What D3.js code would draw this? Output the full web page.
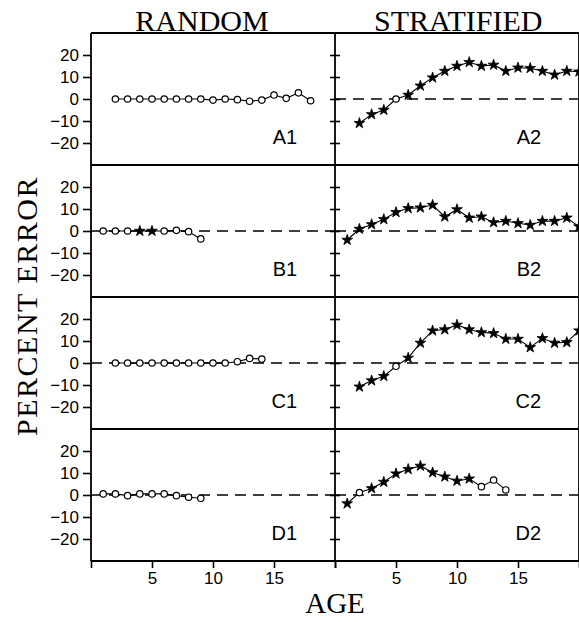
<!DOCTYPE html>
<html>
<head>
<meta charset="utf-8">
<script src="https://cdn.jsdelivr.net/npm/d3@7"></script>
<style>
  body { margin: 0; background: #fff; }
  svg { display: block; }
</style>
</head>
<body>
<div id="chart"></div>
<script>
// percent error by age, 'o' = open circle, '*' = star
const a1Age = [2, 3, 4, 5, 6, 7, 8, 9, 10, 11, 12, 13, 14, 15, 16, 17, 18]
const a1Err = [0, 0, 0, 0, 0, 0, 0, 0, -0.5, 0, -0.3, -1, -0.5, 1.8, 0.3, 2.8, -0.8]
const a1Mark = 'ooooooooooooooooo'

const a2Age = [2, 3, 4, 5, 6, 7, 8, 9, 10, 11, 12, 13, 14, 15, 16, 17, 18, 19, 20]
const a2Err = [-11, -7, -5, 0, 1.8, 6, 9.7, 12.7, 15, 16.7, 15, 15.5, 12.7, 14.2, 14, 12.7, 11, 12.7, 12.4]
const a2Mark = '***o***************'

const b1Age = [1, 2, 3, 4, 5, 6, 7, 8, 9]
const b1Err = [0, 0, 0, 0, 0, 0, 0.3, -0.3, -3.6]
const b1Mark = 'ooo**oooo'

const b2Age = [1, 2, 3, 4, 5, 6, 7, 8, 9, 10, 11, 12, 13, 14, 15, 16, 17, 18, 19, 20]
const b2Err = [-4.1, 0.9, 3, 5.3, 8.5, 10.3, 10.6, 11.8, 6.5, 9.8, 6, 6.5, 3.9, 4.5, 3.5, 2.7, 4.5, 4.5, 6, 2]
const b2Mark = '********************'

const c1Age = [2, 3, 4, 5, 6, 7, 8, 9, 10, 11, 12, 13, 14]
const c1Err = [0, 0, 0, 0, 0, 0, 0, 0, 0, 0, 0.6, 2.1, 1.8]
const c1Mark = 'ooooooooooooo'

const c2Age = [2, 3, 4, 5, 6, 7, 8, 9, 10, 11, 12, 13, 14, 15, 16, 17, 18, 19, 20]
const c2Err = [-10.8, -8, -6, -1.5, 2.3, 9.1, 14.7, 15.2, 17.3, 15.2, 13.9, 13.5, 10.9, 10.9, 7.1, 11.2, 9.1, 9.4, 14.7]
const c2Mark = '***o***************'

const d1Age = [1, 2, 3, 4, 5, 6, 7, 8, 9]
const d1Err = [0.5, 0.5, -0.3, 0.5, 0.5, 0.5, -0.3, -1, -1.5]
const d1Mark = 'ooooooooo'

const d2Age = [1, 2, 3, 4, 5, 6, 7, 8, 9, 10, 11, 12, 13, 14]
const d2Err = [-3.9, 1.1, 3, 5.9, 9.7, 11.7, 13.2, 10.2, 8.3, 6.4, 7.4, 3.8, 6.8, 2.3]
const d2Mark = '*o*********ooo'

const columnTitles = ['RANDOM', 'STRATIFIED']
const yTicks = [-20, -10, 0, 10, 20]
const xTicks = [0, 5, 10, 15, 20]

const panels = [
  { id: 'A1', row: 0, col: 0, age: a1Age, err: a1Err, mark: a1Mark, zero: false },
  { id: 'A2', row: 0, col: 1, age: a2Age, err: a2Err, mark: a2Mark, zero: true },
  { id: 'B1', row: 1, col: 0, age: b1Age, err: b1Err, mark: b1Mark, zero: true },
  { id: 'B2', row: 1, col: 1, age: b2Age, err: b2Err, mark: b2Mark, zero: true },
  { id: 'C1', row: 2, col: 0, age: c1Age, err: c1Err, mark: c1Mark, zero: true },
  { id: 'C2', row: 2, col: 1, age: c2Age, err: c2Err, mark: c2Mark, zero: true },
  { id: 'D1', row: 3, col: 0, age: d1Age, err: d1Err, mark: d1Mark, zero: true },
  { id: 'D2', row: 3, col: 1, age: d2Age, err: d2Err, mark: d2Mark, zero: true }
]

const w = 579
const h = 622
const padL = 91
const padT = 33
const colW = 244
const rowH = 132
const sans = '"Liberation Sans", Arial, sans-serif'
const serif = '"Liberation Serif", "Times New Roman", serif'

const svg = d3.select('#chart')
              .append('svg')
              .attr('width', w)
              .attr('height', h)

svg.append('rect').attr('width', w).attr('height', h).attr('fill', '#fff')

const xScales = [0, 1].map(c => d3.scaleLinear()
                                  .domain([0, 20])
                                  .range([padL + c * colW, padL + (c + 1) * colW]))
const yScales = [0, 1, 2, 3].map(r => d3.scaleLinear()
                                       .domain([-30, 30])
                                       .range([padT + (r + 1) * rowH, padT + r * rowH]))

const star = d3.symbol().type(d3.symbolStar).size(36)

panels.forEach(p => {
  const x = xScales[p.col]
  const y = yScales[p.row]
  const g = svg.append('g')
  const pts = p.age.map((a, i) => ({ age: a, err: p.err[i], mark: p.mark[i] }))

  if (p.zero) {
    g.append('line')
     .attr('x1', x.range()[0]).attr('x2', x.range()[1])
     .attr('y1', y(0)).attr('y2', y(0))
     .attr('stroke', '#000')
     .attr('stroke-width', 1.4)
     .attr('stroke-dasharray', '11,7')
  }

  g.append('path')
   .datum(pts)
   .attr('fill', 'none')
   .attr('stroke', '#000')
   .attr('stroke-width', 1.1)
   .attr('d', d3.line().x(d => x(d.age)).y(d => y(d.err)))

  g.selectAll('circle')
   .data(pts.filter(d => d.mark === 'o'))
   .enter()
   .append('circle')
   .attr('cx', d => x(d.age))
   .attr('cy', d => y(d.err))
   .attr('r', 3.2)
   .attr('fill', '#fff')
   .attr('stroke', '#000')
   .attr('stroke-width', 1.2)

  g.selectAll('path.star')
   .data(pts.filter(d => d.mark === '*'))
   .enter()
   .append('path')
   .attr('class', 'star')
   .attr('transform', d => 'translate(' + x(d.age) + ',' + y(d.err) + ')')
   .attr('d', star)
   .attr('fill', '#000')
   .attr('stroke', '#000')
   .attr('stroke-width', 0.8)

  g.append('text')
   .attr('x', x(16.9))
   .attr('y', y(-20) + 1)
   .attr('text-anchor', 'end')
   .style('font-family', sans)
   .style('font-size', '20px')
   .text(p.id)
})

// y axes
yScales.forEach(y => {
  const yAxis = d3.axisLeft(y)
                  .tickValues(yTicks)
                  .tickSize(8)
                  .tickPadding(4)
  const ga = svg.append('g')
                .attr('transform', 'translate(' + padL + ', 0)')
                .call(yAxis)
  ga.select('.domain').remove()
  ga.selectAll('line').attr('stroke-width', 1.6)
  ga.selectAll('text')
    .style('font-family', sans)
    .style('font-size', '17px')

  const mid = padL + colW
  ;[d3.axisLeft(y), d3.axisRight(y)].forEach(ax => {
    const gm = svg.append('g')
                  .attr('transform', 'translate(' + mid + ', 0)')
                  .call(ax.tickValues(yTicks).tickSize(5).tickFormat(''))
    gm.select('.domain').remove()
    gm.selectAll('line').attr('stroke-width', 1.6)
  })
})

// x axes
xScales.forEach(x => {
  const xAxis = d3.axisBottom(x)
                  .tickValues(xTicks)
                  .tickSize(7)
                  .tickPadding(4)
                  .tickFormat(d => (d === 0 || d === 20) ? '' : d)
  const ga = svg.append('g')
                .attr('transform', 'translate(0, ' + (padT + 4 * rowH) + ')')
                .call(xAxis)
  ga.select('.domain').remove()
  ga.selectAll('line').attr('stroke-width', 1.6)
  ga.selectAll('text')
    .style('font-family', sans)
    .style('font-size', '17px')
})

// frame
const frame = svg.append('g')
                 .attr('stroke', '#000')
                 .attr('stroke-width', 1.8)
                 .attr('fill', 'none')
;[0, 1, 2, 3, 4].forEach(r => {
  frame.append('line')
       .attr('x1', padL).attr('x2', padL + 2 * colW)
       .attr('y1', padT + r * rowH).attr('y2', padT + r * rowH)
})
;[0, 1, 2].forEach(c => {
  frame.append('line')
       .attr('x1', padL + c * colW).attr('x2', padL + c * colW)
       .attr('y1', padT).attr('y2', padT + 4 * rowH)
})

// titles
columnTitles.forEach((t, i) => {
  svg.append('text')
     .attr('x', i === 0 ? 202 : xScales[1](10.1))
     .attr('y', 31)
     .attr('text-anchor', 'middle')
     .style('font-family', serif)
     .style('font-size', '30px')
     .text(t)
})

svg.append('text')
   .attr('transform', 'translate(37, 306) rotate(-90)')
   .attr('text-anchor', 'middle')
   .style('font-family', serif)
   .style('font-size', '30px')
   .style('letter-spacing', '1.5px')
   .text('PERCENT ERROR')

svg.append('text')
   .attr('x', padL + colW)
   .attr('y', 613)
   .attr('text-anchor', 'middle')
   .style('font-family', serif)
   .style('font-size', '29px')
   .text('AGE')
</script>
</body>
</html>
